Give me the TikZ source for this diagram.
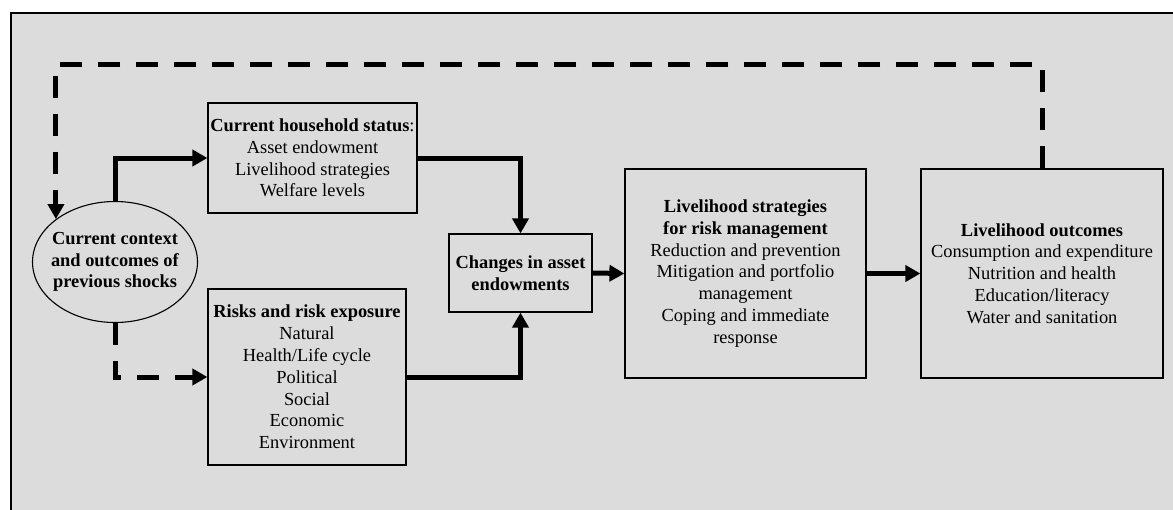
\documentclass[tikz,border=0pt]{standalone}
\usepackage{fontspec}
\setmainfont{Liberation Serif}
\usetikzlibrary{arrows.meta,shapes.geometric}
\definecolor{bg}{RGB}{220,220,220}
\begin{document}
\begin{tikzpicture}[x=1pt,y=-1pt,
 txt/.style={align=center, inner sep=0pt, font=\fontsize{18.4}{21.8}\selectfont},
 box/.style={txt, draw, line width=1.2pt, fill=bg},
 flow/.style={line width=5pt, -{Triangle[length=15pt,width=16pt]}},
 dflow/.style={flow, dash pattern=on 22pt off 16pt}]
\useasboundingbox (0,0) rectangle (1173,509);
\draw[fill=bg, line width=1.5pt] (11,13) rectangle (1190,530);
\node[ellipse, draw, line width=1.1pt, fill=bg, minimum width=165pt, minimum height=121pt, inner sep=0pt] (ell) at (115,262) {};
\node[txt] (ellt) at (ell.center) {\textbf{Current context}\\\textbf{and outcomes of}\\\textbf{previous shocks}};
\node[box, minimum width=209pt, minimum height=110pt] (hh) at (312.5,158) {\textbf{Current household status}:\\Asset endowment\\Livelihood strategies\\Welfare levels};
\node[box, minimum width=198pt, minimum height=176pt] (risk) at (307,377) {\textbf{Risks and risk exposure}\\Natural\\Health/Life cycle\\Political\\Social\\Economic\\Environment};
\node[box, minimum width=143pt, minimum height=78pt] (chg) at (520.5,273) {\textbf{Changes in asset}\\\textbf{endowments}};
\node[box, minimum width=241pt, minimum height=209pt] (strat) at (745.5,273.5) {\textbf{Livelihood strategies}\\\textbf{for risk management}\\Reduction and prevention\\Mitigation and portfolio\\management\\Coping and immediate\\response};
\node[box, minimum width=242pt, minimum height=209pt] (out) at (1042,273.5) {\textbf{Livelihood outcomes}\\Consumption and expenditure\\Nutrition and health\\Education/literacy\\Water and sanitation};
\coordinate (ya) at (0,64);
\coordinate (tl) at (ell.144 |- ya);
\draw[flow] (ell.north) |- (hh.west);
\draw[dflow] (ell.south) |- (risk.west);
\draw[flow] (hh.east) -| (chg.north);
\draw[flow] (risk.east) -| (chg.south);
\draw[flow] (chg.east) -- (strat.west);
\draw[flow] (strat.east) -- (out.west);
\draw[dflow] (out.north) |- (tl) -- (ell.144);
\end{tikzpicture}
\end{document}
